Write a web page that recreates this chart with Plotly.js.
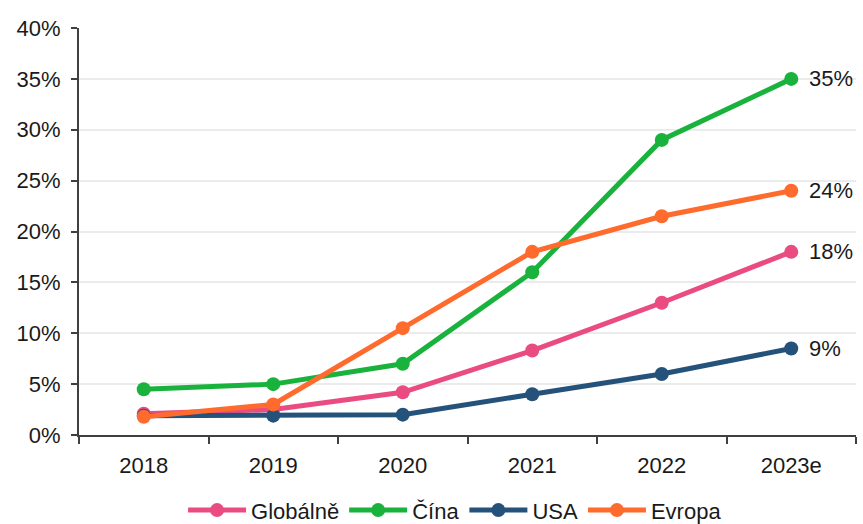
<!DOCTYPE html>
<html>
<head>
<meta charset="utf-8">
<script src="https://cdn.plot.ly/plotly-3.0.1.min.js"></script>
<style>html,body{margin:0;padding:0;background:#fff}#chart{width:863px;height:524px}</style>
</head>
<body>
<div id="chart"></div>
<script>
const categories = ["2018", "2019", "2020", "2021", "2022", "2023e"];
const seriesNames = ["Globálně", "Čína", "USA", "Evropa"];
const globalne = [2.1, 2.5, 4.2, 8.3, 13.0, 18.0];
const cina = [4.5, 5.0, 7.0, 16.0, 29.0, 35.0];
const usa = [1.9, 1.9, 2.0, 4.0, 6.0, 8.5];
const evropa = [1.8, 3.0, 10.5, 18.0, 21.5, 24.0];
const endLabels = ["18%", "35%", "9%", "24%"];
const yTickVals = [0, 5, 10, 15, 20, 25, 30, 35, 40];
const yTickText = ["0%", "5%", "10%", "15%", "20%", "25%", "30%", "35%", "40%"];

const colors = ["#EA4C81", "#19B23C", "#25527A", "#FF6A2D"];
const allSeries = [globalne, cina, usa, evropa];
const font = "Liberation Sans, Arial, sans-serif";
const fs = 22;

const traces = allSeries.map((vals, i) => ({
  type: "scatter",
  mode: "lines+markers",
  name: seriesNames[i],
  x: categories,
  y: vals,
  line: {color: colors[i], width: 5},
  marker: {color: colors[i], size: 14},
  cliponaxis: false
}));

const annotations = allSeries.map((vals, i) => ({
  x: categories[categories.length - 1],
  y: vals[vals.length - 1],
  text: endLabels[i],
  showarrow: false,
  xanchor: "left",
  xshift: 16,
  font: {family: font, size: fs, color: "#1a1a1a"}
}));

const layout = {
  width: 863,
  height: 524,
  margin: {l: 79, r: 7, t: 28, b: 89, autoexpand: false},
  paper_bgcolor: "#fff",
  plot_bgcolor: "#fff",
  font: {family: font, size: fs, color: "#1a1a1a"},
  showlegend: true,
  legend: {
    orientation: "h",
    x: 0.484, xanchor: "center",
    y: -0.185, yanchor: "middle",
    font: {family: font, size: fs, color: "#1a1a1a"},
    itemwidth: 58,
    tracegroupgap: 0
  },
  xaxis: {
    type: "category",
    showline: true,
    linecolor: "#404040",
    linewidth: 2,
    ticks: "outside",
    tickson: "boundaries",
    ticklen: 7,
    tickwidth: 2,
    tickcolor: "#404040",
    showgrid: false,
    zeroline: false,
    ticklabelstandoff: 10,
    tickfont: {family: font, size: fs, color: "#1a1a1a"},
    range: [-0.5, 5.5]
  },
  yaxis: {
    range: [0, 40],
    tickvals: yTickVals,
    ticktext: yTickText,
    showline: true,
    linecolor: "#404040",
    linewidth: 2,
    ticks: "outside",
    ticklen: 6,
    tickwidth: 2,
    tickcolor: "#404040",
    showgrid: true,
    gridcolor: "#EBEBEB",
    gridwidth: 2,
    zeroline: false,
    ticklabelstandoff: 6,
    tickfont: {family: font, size: fs, color: "#1a1a1a"}
  },
  annotations: annotations
};

Plotly.newPlot("chart", traces, layout, {displayModeBar: false, staticPlot: true});
</script>
</body>
</html>
